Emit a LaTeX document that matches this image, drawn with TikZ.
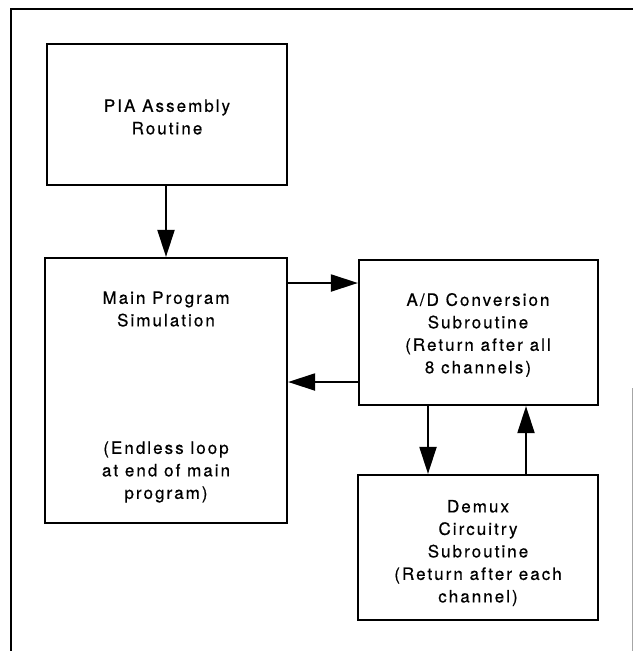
\documentclass[tikz,border=0pt]{standalone}
\usepackage{fontspec}
\setmainfont[LetterSpace=12,FakeBold=0.5]{TeX Gyre Heros}
\usetikzlibrary{arrows.meta}
\begin{document}
\begin{tikzpicture}[x=1pt,y=-1pt,
  box/.style={draw,line width=2.2pt,inner sep=0pt},
  txt/.style={align=center,font=\fontsize{17}{22.5}\selectfont,inner sep=0pt},
  arr/.style={line width=2pt,-{Triangle[length=27pt,width=17pt]}},
  frame/.style={line width=2.2pt}]
\useasboundingbox (0,0) rectangle (633,651);
% outer frame
\coordinate (f1) at (11,651);
\coordinate (f2) at (11,9);
\coordinate (f3) at (633,9);
\coordinate (f4) at (632,388);
\coordinate (f5) at (632,651);
\draw[frame] (f1) -- (f2) -- (f3);
\draw[line width=1pt,black!35] (f4) -- (f5);
% boxes
\node[box,minimum width=240pt,minimum height=141pt] (pia) at (167,114.5) {};
\node[box,minimum width=242pt,minimum height=265pt] (main) at (166,390.5) {};
\node[box,minimum width=239pt,minimum height=145pt] (ad) at (478.5,332.5) {};
\node[box,minimum width=240pt,minimum height=145pt] (dmx) at (478,547.5) {};
% texts
\node[txt] (tpia) at (167,117) {PIA Assembly\\Routine};
\node[txt] (tmain1) at (166,309) {Main Program\\Simulation};
\node[txt] (tmain2) at (166,472) {(Endless loop\\at end of main\\program)};
\node[txt] (tad) at (478,335) {A/D Conversion\\Subroutine\\(Return after all\\8 channels)};
\node[txt] (tdmx) at (478,553) {Demux\\Circuitry\\Subroutine\\(Return after each\\channel)};
% connectors
\coordinate (ya) at (0,283);
\coordinate (yb) at (0,382);
\coordinate (xa) at (428,0);
\coordinate (xb) at (526,0);
\draw[arr] (pia.south -| main.north) -- (main.north);
\draw[arr] (main.east |- ya) -- (ad.west |- ya);
\draw[arr] (ad.west |- yb) -- (main.east |- yb);
\draw[arr] (ad.south -| xa) -- (dmx.north -| xa);
\draw[arr] (dmx.north -| xb) -- (ad.south -| xb);
\end{tikzpicture}
\end{document}
